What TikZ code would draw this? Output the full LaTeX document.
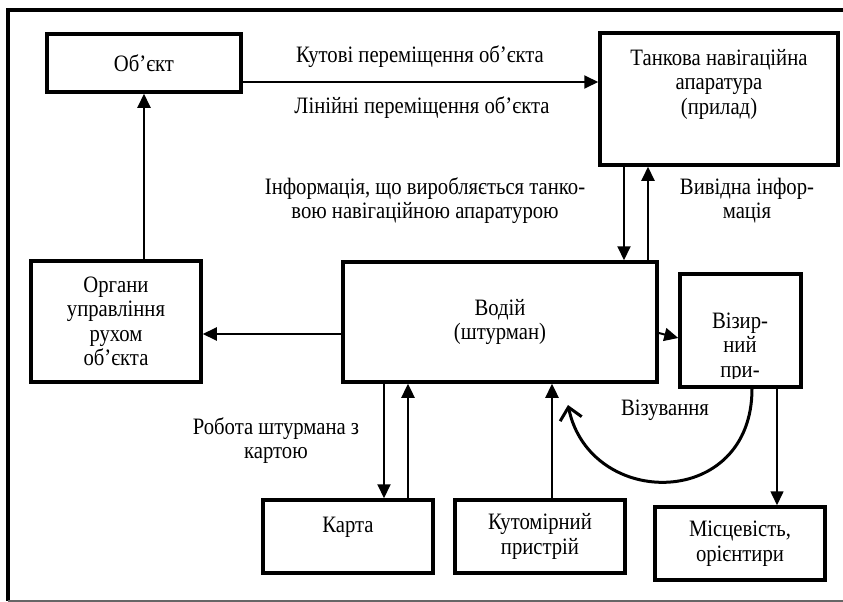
\documentclass[tikz,border=0pt]{standalone}
\usepackage{fontspec}
\setmainfont{Liberation Serif}[FakeStretch=0.88]
\usetikzlibrary{arrows.meta,calc}
\tikzset{
  box/.style={draw, line width=3.5pt, inner sep=0pt, align=center, font=\fontsize{23.5}{24.5}\selectfont},
  lbl/.style={inner sep=0pt, align=center, font=\fontsize{23.5}{24.5}\selectfont},
  conn/.style={line width=2pt, -{Triangle[length=14pt,width=13pt]}},
  curvearrow/.style={line width=3pt, -{Straight Barb[length=12pt,width=22pt]}}
}
\begin{document}
\begin{tikzpicture}[x=1pt,y=-1pt]
\useasboundingbox (0,0) rectangle (843,602);
% frame
\draw[line width=3.5pt] (850,10) -- (8,10) -- (8,601);
\draw[line width=2pt, black!60] (8,600.5) -- (850,600.5);
% boxes
\node[box, minimum width=194pt, minimum height=58pt] (obj) at (144,63) {Об’єкт};
\node[box, minimum width=238pt, minimum height=132pt] (tank) at (719,99) {};
\node[lbl] (tanktxt) at (719,84) {Танкова навігаційна\\апаратура\\(прилад)};
\node[box, minimum width=170pt, minimum height=121pt] (org) at (116,321.5) {Органи\\управління\\рухом\\об’єкта};
\node[box, minimum width=314pt, minimum height=120pt] (vod) at (500,322) {Водій\\(штурман)};
\node[box, minimum width=121pt, minimum height=113pt] (viz) at (740.5,330.5) {};
\begin{scope}
  \clip (682,276) rectangle (799,378);
  \node[lbl] (viztxt) at (740,347.5) {Візир-\\ний\\при-};
\end{scope}
\node[box, minimum width=170pt, minimum height=73pt] (karta) at (348,536.5) {};
\node[lbl] (kartatxt) at (348,527) {Карта};
\node[box, minimum width=170pt, minimum height=73pt] (kut) at (540,536.5) {Кутомірний\\пристрій};
\node[box, minimum width=170pt, minimum height=73pt] (mis) at (740,543.5) {Місцевість,\\орієнтири};
% labels
\node[lbl] (l1) at (420,57) {Кутові переміщення об’єкта};
\node[lbl] (l2) at (422,108) {Лінійні переміщення об’єкта};
\node[lbl] (l3) at (425,200.5) {Інформація, що виробляється танко-\\вою навігаційною апаратурою};
\node[lbl] (l4) at (747,200.5) {Вивідна інфор-\\мація};
\node[lbl] (l5) at (276,440.5) {Робота штурмана з\\картою};
\node[lbl] (l6) at (665,410) {Візування};
% connectors
\draw[conn] (obj.east |- 0,82) -- (tank.west |- 0,82);
\draw[conn] (org.north -| 144,0) -- (obj.south -| 144,0);
\draw[conn] (vod.west |- 0,334) -- (org.east |- 0,334);
\draw[conn] (tank.south -| 624,0) -- (vod.north -| 624,0);
\draw[conn] (vod.north -| 648,0) -- (tank.south -| 648,0);
\draw[conn] (vod.east |- 0,333) -- (viz.west |- 0,338);
\draw[conn] (vod.south -| 384,0) -- (karta.north -| 384,0);
\draw[conn, line width=2.4pt] (karta.north -| 408,0) -- (vod.south -| 408,0);
\draw[conn, line width=2.4pt] (kut.north -| 552,0) -- (vod.south -| 552,0);
\draw[conn, line width=1.6pt] (viz.south -| 777,0) -- (mis.north -| 777,0);
\coordinate (vizend) at (568,405);
\draw[curvearrow] (viz.south -| 752,0) .. controls (752,510) and (590,510) .. (vizend);
\end{tikzpicture}
\end{document}
